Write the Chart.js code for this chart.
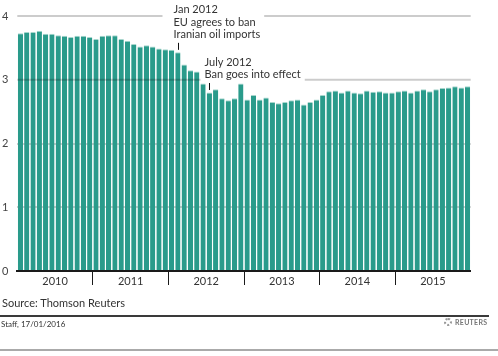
<!DOCTYPE html>
<html><head><meta charset="utf-8">
<script src="https://cdn.jsdelivr.net/npm/chart.js@4.4.1/dist/chart.umd.min.js"></script>
<style>
html,body{margin:0;padding:0;background:#fff;}
body{width:498px;height:356px;position:relative;overflow:hidden;font-family:Lato,'Open Sans',sans-serif;}
#c{position:absolute;left:0;top:0;}
.src{position:absolute;left:2px;top:296px;font-size:11px;color:#333;white-space:nowrap;}
.rule1{position:absolute;left:0;top:315px;width:489px;height:2px;background:#3a3a3a;}
.staff{position:absolute;left:1px;top:319px;font-size:8px;color:#333;white-space:nowrap;}
.logo{position:absolute;left:444px;top:317px;height:10px;display:flex;align-items:center;white-space:nowrap;}
.logo .dot{width:8px;height:8px;border-radius:50%;border:2px dotted #999;box-sizing:border-box;margin-right:3px;}
.logo span{font-size:7px;font-weight:bold;color:#777;letter-spacing:0.3px;}
.rule2{position:absolute;left:0;top:349px;width:498px;height:2px;background:#aaa;}
</style></head><body>
<canvas id="c" width="498" height="300"></canvas>
<div class="src">Source: Thomson Reuters</div>
<div class="rule1"></div>
<div class="staff">Staff, 17/01/2016</div>
<div class="logo"><div class="dot"></div><span>REUTERS</span></div>
<div class="rule2"></div>
<script>
// ---- data ----
const years = ['2010', '2011', '2012', '2013', '2014', '2015'];
const monthNames = ['Jan','Feb','Mar','Apr','May','Jun','Jul','Aug','Sep','Oct','Nov','Dec'];
const values2010 = [3.73, 3.75, 3.75, 3.77, 3.72, 3.72, 3.70, 3.69, 3.67, 3.69, 3.69, 3.67];
const values2011 = [3.64, 3.69, 3.70, 3.70, 3.64, 3.61, 3.56, 3.52, 3.54, 3.52, 3.49, 3.48];
const values2012 = [3.47, 3.43, 3.24, 3.15, 3.13, 2.94, 2.80, 2.85, 2.71, 2.68, 2.71, 2.94];
const values2013 = [2.69, 2.76, 2.69, 2.72, 2.65, 2.63, 2.65, 2.68, 2.69, 2.61, 2.65, 2.69];
const values2014 = [2.76, 2.82, 2.83, 2.80, 2.83, 2.80, 2.79, 2.83, 2.81, 2.82, 2.80, 2.80];
const values2015 = [2.82, 2.83, 2.80, 2.83, 2.85, 2.82, 2.85, 2.87, 2.88, 2.90, 2.88, 2.90];
const yTicks = [0, 1, 2, 3, 4];
const annotations = [
  { index: 25, gridValue: 4, lines: ['Jan 2012', 'EU agrees to ban', 'Iranian oil imports'], gapLeft: 16, firstBaseline: -3 },
  { index: 30, gridValue: 3, lines: ['July 2012', 'Ban goes into effect'], gapLeft: 9, firstBaseline: -14 }
];

const categories = [];
years.forEach(y => monthNames.forEach(m => categories.push(m + ' ' + y)));
const values = [].concat(values2010, values2011, values2012, values2013, values2014, values2015);

const TEAL = '#2a9b8b';
const GRID = 'rgba(0,0,0,0.2)';
const FONT = "Lato, 'Open Sans', sans-serif";

const annotationPlugin = {
  id: 'annot',
  afterDraw(chart) {
    const ctx = chart.ctx;
    const ys = chart.scales.y;
    const meta = chart.getDatasetMeta(0);
    const area = chart.chartArea;
    ctx.save();
    ctx.font = '11px ' + FONT;
    annotations.forEach(a => {
      const bar = meta.data[a.index];
      const mx = Math.round(bar.x) + 0.5;
      const gy = ys.getPixelForValue(a.gridValue);
      const textLeft = mx - 5;
      let maxW = 0;
      a.lines.forEach(l => { maxW = Math.max(maxW, ctx.measureText(l).width); });
      ctx.strokeStyle = GRID;
      ctx.lineWidth = 2;
      ctx.beginPath();
      ctx.moveTo(area.left, gy); ctx.lineTo(mx - a.gapLeft, gy);
      ctx.moveTo(textLeft + maxW + 4, gy); ctx.lineTo(area.right, gy);
      ctx.stroke();
      ctx.fillStyle = '#333';
      ctx.textAlign = 'left';
      ctx.textBaseline = 'alphabetic';
      a.lines.forEach((l, i) => ctx.fillText(l, textLeft, gy + a.firstBaseline + i * 12.5));
      ctx.strokeStyle = '#111';
      ctx.lineWidth = 1;
      ctx.beginPath();
      ctx.moveTo(mx, bar.y - 9.5); ctx.lineTo(mx, bar.y - 2.5);
      ctx.stroke();
    });
    ctx.restore();
  }
};

new Chart(document.getElementById('c'), {
  type: 'bar',
  data: {
    labels: categories,
    datasets: [{
      data: values,
      backgroundColor: TEAL,
      borderColor: '#a8d6cd',
      borderWidth: { top: 1, left: 0, right: 0, bottom: 0 },
      borderSkipped: 'bottom',
      barPercentage: 0.83,
      categoryPercentage: 1
    }]
  },
  options: {
    responsive: false,
    animation: false,
    devicePixelRatio: 1,
    layout: { padding: { top: 16, right: 27.3, left: 0, bottom: 0 } },
    plugins: { legend: { display: false }, tooltip: { enabled: false }, title: { display: false } },
    scales: {
      x: {
        z: 1,
        offset: true,
        afterFit(s) { s.height = 29; },
        grid: {
          offset: true,
          drawOnChartArea: false,
          drawTicks: true,
          tickLength: 14,
          lineWidth: 1,
          color: c => (c.index !== undefined && c.index > 0 && c.index % 12 === 0) ? '#1a1a1a' : 'rgba(0,0,0,0)'
        },
        border: { display: true, color: '#1a1a1a', width: 2 },
        ticks: {
          autoSkip: false,
          maxRotation: 0,
          minRotation: 0,
          padding: -10.6,
          labelOffset: -3.15,
          font: { family: FONT, size: 11 },
          color: '#333',
          callback: (v, i) => (i % 12 === 6) ? years[Math.floor(i / 12)] : ''
        }
      },
      y: {
        z: 1,
        min: 0,
        max: 4,
        afterFit(s) { s.width = 17.3; },
        afterBuildTicks(s) { s.ticks = yTicks.map(v => ({ value: v })); },
        grid: {
          drawTicks: false,
          lineWidth: 2,
          color: c => (c.tick && (c.tick.value === 1 || c.tick.value === 2)) ? GRID : 'rgba(0,0,0,0)'
        },
        border: { display: false },
        ticks: {
          padding: 9,
          font: { family: FONT, size: 11 },
          color: '#444'
        }
      }
    }
  },
  plugins: [annotationPlugin]
});
</script>
</body></html>
